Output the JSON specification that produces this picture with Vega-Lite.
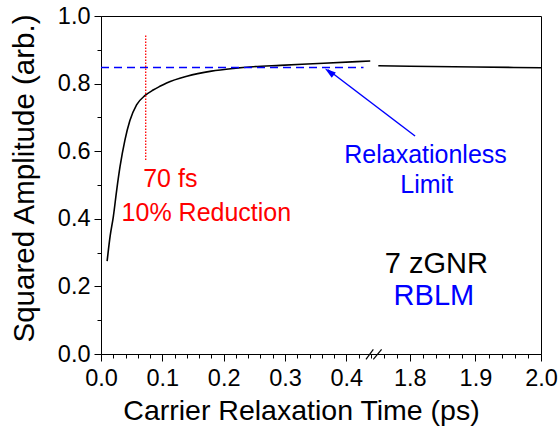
{
  "$schema": "https://vega.github.io/schema/vega-lite/v6.json",
  "width": 440,
  "height": 338,
  "autosize": "none",
  "padding": {"left": 101, "top": 16, "right": 18, "bottom": 82},
  "background": "white",
  "config": {
    "view": {"stroke": "black", "strokeWidth": 1},
    "axis": {
      "labelFont": "Liberation Sans",
      "titleFont": "Liberation Sans",
      "labelColor": "black",
      "titleColor": "black",
      "domainColor": "black",
      "tickColor": "black",
      "grid": false,
      "titleFontWeight": "normal",
      "domainWidth": 1,
      "tickWidth": 1
    },
    "text": {"font": "Liberation Sans"}
  },
  "resolve": {"axis": {"x": "independent", "y": "independent"}},
  "layer": [
    {
      "data": {"values": [
        {"x": 0.010, "y": 0.275, "seg": "a"},
        {"x": 0.015, "y": 0.350, "seg": "a"},
        {"x": 0.020, "y": 0.405, "seg": "a"},
        {"x": 0.0256, "y": 0.485, "seg": "a"},
        {"x": 0.031, "y": 0.554, "seg": "a"},
        {"x": 0.039, "y": 0.633, "seg": "a"},
        {"x": 0.047, "y": 0.690, "seg": "a"},
        {"x": 0.058, "y": 0.737, "seg": "a"},
        {"x": 0.072, "y": 0.765, "seg": "a"},
        {"x": 0.085, "y": 0.781, "seg": "a"},
        {"x": 0.096, "y": 0.792, "seg": "a"},
        {"x": 0.107, "y": 0.802, "seg": "a"},
        {"x": 0.140, "y": 0.822, "seg": "a"},
        {"x": 0.180, "y": 0.837, "seg": "a"},
        {"x": 0.216, "y": 0.845, "seg": "a"},
        {"x": 0.248, "y": 0.850, "seg": "a"},
        {"x": 0.292, "y": 0.854, "seg": "a"},
        {"x": 0.363, "y": 0.860, "seg": "a"},
        {"x": 0.439, "y": 0.867, "seg": "a"},
        {"x": 1.752, "y": 0.853, "seg": "b"},
        {"x": 1.800, "y": 0.8515, "seg": "b"},
        {"x": 1.900, "y": 0.849, "seg": "b"},
        {"x": 2.000, "y": 0.847, "seg": "b"}
      ]},
      "mark": {"type": "line", "color": "black", "strokeWidth": 1.6, "interpolate": "monotone"},
      "encoding": {
        "x": {
          "field": "x", "type": "quantitative",
          "scale": {"domain": [0, 0.45, 1.75, 2.0], "range": [0, 276, 276, 440], "nice": false, "zero": false},
          "axis": {
            "orient": "bottom",
            "values": [0, 0.1, 0.2, 0.3, 0.4, 1.8, 1.9, 2.0],
            "format": ".1f",
            "title": "Carrier Relaxation Time (ps)",
            "titleFontSize": 28.5,
            "titleX": 200,
            "titleY": 65.3,
            "titleAlign": "center",
            "titleBaseline": "alphabetic",
            "labelFontSize": 23.5,
            "tickSize": 7,
            "labelPadding": 5,
            "labelOverlap": false,
            "labelFlush": false,
            "labelBound": false
          }
        },
        "y": {
          "field": "y", "type": "quantitative",
          "scale": {"domain": [0, 1], "nice": false, "zero": false},
          "axis": {
            "orient": "left",
            "values": [0, 0.2, 0.4, 0.6, 0.8, 1.0],
            "format": ".1f",
            "title": "Squared Amplitude (arb.)",
            "titleFontSize": 29.5,
            "titleX": -67.7,
            "titleY": 162,
            "titleAngle": -90,
            "titleAlign": "center",
            "titleBaseline": "alphabetic",
            "labelFontSize": 23.5,
            "tickSize": 7,
            "labelPadding": 4,
            "labelOverlap": false,
            "labelFlush": false,
            "labelBound": false
          }
        },
        "detail": {"field": "seg", "type": "nominal"}
      }
    },
    {
      "data": {"values": [{"x": 0, "x2": 0.428, "y": 0.848}]},
      "mark": {"type": "rule", "color": "#0000ff", "strokeWidth": 1.5, "strokeDash": [8, 5]},
      "encoding": {
        "x": {
          "field": "x", "type": "quantitative",
          "scale": {"domain": [0, 0.45, 1.75, 2.0], "range": [0, 276, 276, 440], "nice": false, "zero": false},
          "axis": {
            "orient": "bottom",
            "values": [0.02, 0.04, 0.06, 0.08, 0.12, 0.14, 0.16, 0.18, 0.22, 0.24, 0.26, 0.28, 0.32, 0.34, 0.36, 0.38, 0.42, 0.44, 1.76, 1.78, 1.82, 1.84, 1.86, 1.88, 1.92, 1.94, 1.96, 1.98],
            "labels": false,
            "domain": false,
            "title": null,
            "tickSize": 4
          }
        },
        "x2": {"field": "x2"},
        "y": {
          "field": "y", "type": "quantitative",
          "scale": {"domain": [0, 1], "nice": false, "zero": false},
          "axis": {
            "orient": "left",
            "values": [0.1, 0.3, 0.5, 0.7, 0.9],
            "labels": false,
            "domain": false,
            "title": null,
            "tickSize": 4
          }
        }
      }
    },
    {
      "data": {"values": [{"x": 0.0729, "y": 0.574, "y2": 0.944}]},
      "mark": {"type": "rule", "color": "#ff0000", "strokeWidth": 1.3, "strokeDash": [1.5, 1.5]},
      "encoding": {
        "x": {"field": "x", "type": "quantitative", "axis": null, "scale": {"domain": [0, 0.45, 1.75, 2.0], "range": [0, 276, 276, 440], "nice": false, "zero": false}},
        "y": {"field": "y", "type": "quantitative", "axis": null, "scale": {"domain": [0, 1], "nice": false, "zero": false}},
        "y2": {"field": "y2"}
      }
    },
    {
      "data": {"values": [{"x": 1.808, "y": 0.645, "x2": 0.37, "y2": 0.841}]},
      "mark": {"type": "rule", "color": "#0000ff", "strokeWidth": 1.5},
      "encoding": {
        "x": {"field": "x", "type": "quantitative", "axis": null, "scale": {"domain": [0, 0.45, 1.75, 2.0], "range": [0, 276, 276, 440], "nice": false, "zero": false}},
        "x2": {"field": "x2"},
        "y": {"field": "y", "type": "quantitative", "axis": null, "scale": {"domain": [0, 1], "nice": false, "zero": false}},
        "y2": {"field": "y2"}
      }
    },
    {
      "data": {"values": [{"x": 0.365, "y": 0.845}]},
      "mark": {"type": "point", "shape": "M0,0L-0.3,1L0.3,1Z", "filled": true, "color": "#0000ff", "opacity": 1, "size": 500, "angle": 307, "strokeWidth": 0},
      "encoding": {
        "x": {"field": "x", "type": "quantitative", "axis": null, "scale": {"domain": [0, 0.45, 1.75, 2.0], "range": [0, 276, 276, 440], "nice": false, "zero": false}},
        "y": {"field": "y", "type": "quantitative", "axis": null, "scale": {"domain": [0, 1], "nice": false, "zero": false}}
      }
    },
    {
      "data": {"values": [
        {"x": 0.432, "y": -0.0157, "x2": 0.444, "y2": 0.0139},
        {"x": 0.444, "y": -0.0157, "x2": 1.757, "y2": 0.0139}
      ]},
      "mark": {"type": "rule", "color": "black", "strokeWidth": 1.2},
      "encoding": {
        "x": {"field": "x", "type": "quantitative", "axis": null, "scale": {"domain": [0, 0.45, 1.75, 2.0], "range": [0, 276, 276, 440], "nice": false, "zero": false}},
        "x2": {"field": "x2"},
        "y": {"field": "y", "type": "quantitative", "axis": null, "scale": {"domain": [0, 1], "nice": false, "zero": false}},
        "y2": {"field": "y2"}
      }
    },
    {
      "data": {"values": [
        {"x": 0.113, "y": 0.495, "t": "70 fs"},
        {"x": 0.1718, "y": 0.3935, "t": "10% Reduction"}
      ]},
      "mark": {"type": "text", "color": "#ff0000", "fontSize": 25, "align": "center", "baseline": "alphabetic", "font": "Liberation Sans"},
      "encoding": {
        "x": {"field": "x", "type": "quantitative", "axis": null, "scale": {"domain": [0, 0.45, 1.75, 2.0], "range": [0, 276, 276, 440], "nice": false, "zero": false}},
        "y": {"field": "y", "type": "quantitative", "axis": null, "scale": {"domain": [0, 1], "nice": false, "zero": false}},
        "text": {"field": "t"}
      }
    },
    {
      "data": {"values": [
        {"x": 1.824, "y": 0.5642, "t": "Relaxationless"},
        {"x": 1.8258, "y": 0.4754, "t": "Limit"}
      ]},
      "mark": {"type": "text", "color": "#0000ff", "fontSize": 25, "align": "center", "baseline": "alphabetic", "font": "Liberation Sans"},
      "encoding": {
        "x": {"field": "x", "type": "quantitative", "axis": null, "scale": {"domain": [0, 0.45, 1.75, 2.0], "range": [0, 276, 276, 440], "nice": false, "zero": false}},
        "y": {"field": "y", "type": "quantitative", "axis": null, "scale": {"domain": [0, 1], "nice": false, "zero": false}},
        "text": {"field": "t"}
      }
    },
    {
      "data": {"values": [{"x": 1.8405, "y": 0.2405, "t": "7 zGNR"}]},
      "mark": {"type": "text", "color": "black", "fontSize": 29, "align": "center", "baseline": "alphabetic", "font": "Liberation Sans"},
      "encoding": {
        "x": {"field": "x", "type": "quantitative", "axis": null, "scale": {"domain": [0, 0.45, 1.75, 2.0], "range": [0, 276, 276, 440], "nice": false, "zero": false}},
        "y": {"field": "y", "type": "quantitative", "axis": null, "scale": {"domain": [0, 1], "nice": false, "zero": false}},
        "text": {"field": "t"}
      }
    },
    {
      "data": {"values": [{"x": 1.8367, "y": 0.145, "t": "RBLM"}]},
      "mark": {"type": "text", "color": "#0000ff", "fontSize": 29, "align": "center", "baseline": "alphabetic", "font": "Liberation Sans"},
      "encoding": {
        "x": {"field": "x", "type": "quantitative", "axis": null, "scale": {"domain": [0, 0.45, 1.75, 2.0], "range": [0, 276, 276, 440], "nice": false, "zero": false}},
        "y": {"field": "y", "type": "quantitative", "axis": null, "scale": {"domain": [0, 1], "nice": false, "zero": false}},
        "text": {"field": "t"}
      }
    }
  ]
}
